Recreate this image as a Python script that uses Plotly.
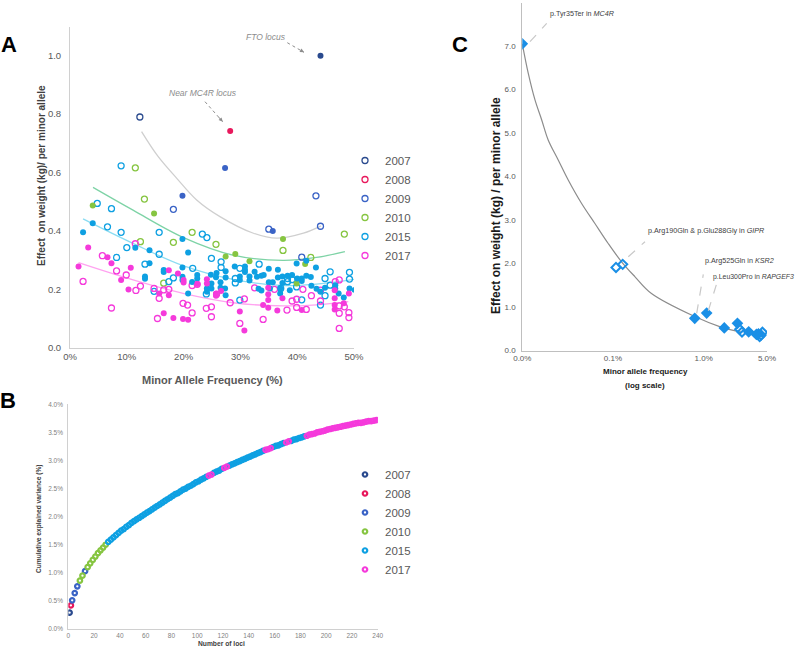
import plotly.graph_objects as go

W, H = 800, 649
def px(x): return x / W
def py(y): return 1 - y / H

years = ["2007", "2008", "2009", "2010", "2015", "2017"]
year_colors = ["#2A4A8E", "#E8185C", "#3A63C6", "#86C541", "#0EA0E2", "#F53ADB"]

# ---------------- Panel A : effect vs MAF ----------------
maf_2007_filled = [44.1]
eff_2007_filled = [1.00]
maf_2007_open = [12.3]
eff_2007_open = [0.79]

maf_2008_filled = [28.2]
eff_2008_filled = [0.742]
maf_2008_open = []
eff_2008_open = []

maf_2009_filled = [27.3, 19.8, 35.7]
eff_2009_filled = [0.615, 0.52, 0.40]
maf_2009_open = [43.3, 18.2, 35.0, 44.1, 40.8]
eff_2009_open = [0.52, 0.474, 0.406, 0.416, 0.31]

maf_2010_filled = [4.0, 14.8, 37.5, 27.4, 29.1, 31.6, 41.4, 39.9]
eff_2010_filled = [0.487, 0.46, 0.372, 0.312, 0.321, 0.296, 0.287, 0.22]
maf_2010_open = [11.5, 13.1, 12.4, 18.2, 21.5, 25.7, 37.5, 48.3, 42.4, 16.5]
eff_2010_open = [0.616, 0.509, 0.363, 0.361, 0.395, 0.354, 0.333, 0.389, 0.309, 0.221]

maf_2015_filled = [2.3, 4.0, 11.5, 14.0, 13.2, 13.2, 14.0, 16.5, 16.5, 19.8, 19.8, 20.8,
                   19.8, 19.8, 20.8, 21.5, 22.4, 22.4, 24.8, 25.8, 24.9, 24.9, 24.1, 24.1,
                   25.7, 26.5, 26.5, 27.3, 27.4, 27.4, 27.4, 29.0, 29.9, 29.9, 30.8, 30.8,
                   30.8, 31.6, 31.6, 32.5, 32.9, 33.7, 33.2, 33.7, 34.1, 35.0, 35.0, 35.7,
                   36.6, 36.6, 37.4, 37.4, 38.3, 39.1, 39.9, 40.0, 40.8, 40.8, 41.6, 41.6,
                   42.4, 42.5, 43.3, 43.4, 44.9, 46.7, 46.7, 48.2, 49.2, 50.1, 37.0, 38.7,
                   44.1, 47.3, 35.2, 37.0]
eff_2015_filled = [0.395, 0.426, 0.342, 0.334, 0.244, 0.236, 0.289, 0.266, 0.259, 0.372, 0.275, 0.326,
                   0.243, 0.232, 0.186, 0.225, 0.249, 0.237, 0.25, 0.256, 0.22, 0.203, 0.203, 0.192,
                   0.241, 0.224, 0.205, 0.203, 0.262, 0.24, 0.18, 0.278, 0.244, 0.232, 0.278, 0.267,
                   0.259, 0.244, 0.23, 0.26, 0.243, 0.246, 0.202, 0.196, 0.249, 0.27, 0.224, 0.224,
                   0.267, 0.24, 0.244, 0.222, 0.246, 0.249, 0.288, 0.237, 0.237, 0.228, 0.298, 0.246,
                   0.242, 0.212, 0.275, 0.202, 0.205, 0.214, 0.203, 0.172, 0.203, 0.198, 0.186, 0.197,
                   0.192, 0.186, 0.203, 0.203]
maf_2015_open = [4.8, 7.3, 9.0, 6.6, 9.0, 15.7, 10.0, 15.7, 13.2, 8.2, 14.8, 17.4, 18.2,
                 23.3, 24.1, 21.6, 24.9, 26.6, 26.6, 29.9, 29.1, 29.1, 33.3, 38.3, 39.1, 38.3,
                 39.9, 44.9, 45.8, 45.8, 44.9, 49.2, 49.2, 44.1, 29.9, 24.0, 37.1, 40.8]
eff_2015_open = [0.494, 0.476, 0.623, 0.414, 0.395, 0.395, 0.343, 0.32, 0.286, 0.309, 0.193, 0.226, 0.239,
                 0.389, 0.377, 0.272, 0.306, 0.294, 0.275, 0.272, 0.237, 0.222, 0.286, 0.237, 0.233, 0.226,
                 0.208, 0.237, 0.26, 0.214, 0.178, 0.258, 0.235, 0.146, 0.163, 0.184, 0.203, 0.164]

maf_2017_filled = [1.5, 3.2, 6.6, 7.3, 9.0, 10.7, 10.3, 15.7, 17.4, 17.4, 19.0, 20.0, 20.0,
                   16.5, 18.2, 19.9, 20.8, 22.4, 24.1, 24.1, 25.7, 25.7, 26.6, 29.9, 30.7,
                   34.0, 34.9, 34.9, 34.9, 34.9, 36.5, 37.4, 40.8, 46.6, 46.6, 46.6, 46.6,
                   48.2, 49.1]
eff_2017_filled = [0.278, 0.343, 0.31, 0.289, 0.232, 0.274, 0.199, 0.186, 0.265, 0.18, 0.254, 0.232, 0.223,
                   0.118, 0.102, 0.098, 0.096, 0.218, 0.234, 0.22, 0.185, 0.178, 0.194, 0.124, 0.059,
                   0.146, 0.205, 0.183, 0.163, 0.137, 0.127, 0.169, 0.129, 0.197, 0.169, 0.146, 0.131,
                   0.152, 0.186]
maf_2017_open = [2.3, 5.7, 8.2, 9.9, 11.6, 12.4, 7.3, 14.8, 15.7, 16.5, 17.4, 11.5, 15.4,
                 19.9, 20.7, 21.5, 21.5, 22.4, 24.0, 24.9, 24.9, 25.8, 28.2, 29.9, 30.7, 32.5,
                 34.0, 38.2, 39.1, 39.9, 39.9, 41.6, 42.5, 44.1, 44.1, 47.4, 47.4, 47.4, 47.4,
                 48.3, 49.1, 49.1, 46.7, 36.0, 41.0]
eff_2017_open = [0.227, 0.315, 0.263, 0.249, 0.196, 0.211, 0.136, 0.203, 0.169, 0.198, 0.2, 0.356, 0.1,
                 0.152, 0.146, 0.119, 0.213, 0.217, 0.135, 0.14, 0.106, 0.183, 0.154, 0.083, 0.167, 0.205,
                 0.097, 0.129, 0.16, 0.166, 0.138, 0.131, 0.178, 0.16, 0.197, 0.232, 0.143, 0.118, 0.066,
                 0.14, 0.12, 0.103, 0.226, 0.2, 0.2]

filled_maf = [maf_2007_filled, maf_2008_filled, maf_2009_filled, maf_2010_filled, maf_2015_filled, maf_2017_filled]
filled_eff = [eff_2007_filled, eff_2008_filled, eff_2009_filled, eff_2010_filled, eff_2015_filled, eff_2017_filled]
open_maf = [maf_2007_open, maf_2008_open, maf_2009_open, maf_2010_open, maf_2015_open, maf_2017_open]
open_eff = [eff_2007_open, eff_2008_open, eff_2009_open, eff_2010_open, eff_2015_open, eff_2017_open]

# trend curves
trend_gray_maf = [12.6, 15.5, 18.8, 22.3, 26.4, 32.3, 36.4, 41.1, 44.2]
trend_gray_eff = [0.74, 0.655, 0.58, 0.506, 0.449, 0.392, 0.375, 0.392, 0.417]
trend_green_maf = [4.05, 11.1, 19.9, 28.7, 37.5, 43.4, 48.4]
trend_green_eff = [0.549, 0.471, 0.378, 0.317, 0.299, 0.309, 0.329]
trend_cyan_maf = [2.3, 11.1, 19.9, 28.7, 37.5, 43.4, 50.1]
trend_cyan_eff = [0.441, 0.357, 0.281, 0.234, 0.213, 0.218, 0.234]
trend_pink_maf = [1.5, 11.1, 19.9, 28.7, 37.5, 43.4, 49.0]
trend_pink_eff = [0.291, 0.232, 0.186, 0.154, 0.143, 0.147, 0.158]

# ---------------- Panel B : cumulative explained variance ----------------
b_loci = [1, 2, 3, 5, 7, 9, 11, 13, 15, 17, 19, 21, 23, 25, 27, 29, 31, 33, 35, 37, 39, 41, 43, 45, 47,
          49, 51, 53, 55, 57, 59, 61, 63, 65, 67, 69, 71, 73, 75, 77, 79, 81, 83, 85, 87, 89, 91, 93,
          95, 97, 99, 101, 103, 105, 107, 109, 111, 113, 115, 117, 119, 121, 123, 125, 127, 129, 131,
          133, 135, 137, 139, 141, 143, 145, 147, 149, 151, 153, 155, 157, 159, 161, 163, 165, 167,
          169, 171, 173, 175, 177, 179, 181, 183, 185, 187, 189, 191, 193, 195, 197, 199, 201, 203,
          205, 207, 209, 211, 213, 215, 217, 219, 221, 223, 225, 227, 229, 231, 233, 235, 237, 239,
          241, 242]
b_cum = [0.29, 0.42, 0.51, 0.64, 0.76, 0.86, 0.95, 1.03, 1.10, 1.17, 1.23, 1.29, 1.35, 1.40, 1.45, 1.50,
         1.55, 1.59, 1.63, 1.67, 1.71, 1.75, 1.78, 1.82, 1.85, 1.89, 1.92, 1.95, 1.98, 2.01, 2.04, 2.07,
         2.10, 2.13, 2.16, 2.19, 2.22, 2.25, 2.28, 2.31, 2.34, 2.37, 2.40, 2.42, 2.45, 2.48, 2.50, 2.53,
         2.55, 2.58, 2.61, 2.63, 2.66, 2.68, 2.71, 2.73, 2.75, 2.78, 2.80, 2.82, 2.85, 2.87, 2.89, 2.91,
         2.93, 2.95, 2.97, 2.99, 3.01, 3.03, 3.05, 3.07, 3.09, 3.11, 3.13, 3.15, 3.17, 3.19, 3.20, 3.22,
         3.24, 3.26, 3.27, 3.29, 3.31, 3.32, 3.34, 3.35, 3.37, 3.38, 3.40, 3.41, 3.43, 3.44, 3.46, 3.47,
         3.48, 3.50, 3.51, 3.52, 3.53, 3.55, 3.56, 3.57, 3.58, 3.59, 3.60, 3.61, 3.62, 3.63, 3.64, 3.65,
         3.66, 3.67, 3.67, 3.68, 3.69, 3.70, 3.70, 3.71, 3.72, 3.72, 3.73]
# (first locus, last locus, year) runs of discovery year along the curve
b_year_runs = [(1, 1, "2007"), (2, 2, "2008"), (3, 8, "2009"), (9, 11, "2010"), (12, 13, "2009"),
               (14, 30, "2010"), (31, 107, "2015"), (108, 112, "2017"), (113, 119, "2015"),
               (120, 124, "2017"), (125, 151, "2015"), (152, 158, "2017"), (159, 167, "2015"),
               (168, 172, "2017"), (173, 183, "2015"), (184, 242, "2017")]

# ---------------- Panel C : rare variants (log MAF) ----------------
c_maf_filled = [0.0001, 0.00798, 0.0108, 0.0169, 0.0236, 0.0314, 0.0382, 0.0402]
c_eff_filled = [7.05, 0.74, 0.86, 0.52, 0.625, 0.43, 0.37, 0.38]
c_maf_open = [0.00108, 0.00128, 0.025, 0.0265, 0.0415, 0.0445, 0.043]
c_eff_open = [1.91, 1.98, 0.49, 0.425, 0.32, 0.42, 0.355]
c_curve_maf = [0.0001, 0.0001164, 0.000138, 0.0001637, 0.000193, 0.000249, 0.000321, 0.000451,
               0.000632, 0.000886, 0.001244, 0.001742, 0.00266, 0.00798, 0.01503, 0.025, 0.0267]
c_curve_eff = [7.05, 6.37, 5.76, 5.30, 4.84, 4.38, 3.92, 3.38, 2.92, 2.46, 2.04, 1.70, 1.31, 0.78,
               0.55, 0.43, 0.42]

fig = go.Figure()

# Panel A traces
for cm, ce, col in [(trend_gray_maf, trend_gray_eff, "#CFCFCF"), (trend_green_maf, trend_green_eff, "#7ED3A6"),
                    (trend_cyan_maf, trend_cyan_eff, "#8ADCF2"), (trend_pink_maf, trend_pink_eff, "#FFA3F0")]:
    fig.add_trace(go.Scatter(x=cm, y=ce, mode="lines", line=dict(color=col, width=1.3, shape="spline"),
                             showlegend=False, hoverinfo="skip", xaxis="x", yaxis="y"))

for i, yr in enumerate(years):
    fig.add_trace(go.Scatter(x=open_maf[i] or [None], y=open_eff[i] or [None], mode="markers", name=yr,
                             legendgroup=yr, legend="legend",
                             marker=dict(symbol="circle-open", size=6, color=year_colors[i], line=dict(width=1.3)),
                             xaxis="x", yaxis="y"))
for i, yr in enumerate(years):
    fig.add_trace(go.Scatter(x=filled_maf[i], y=filled_eff[i], mode="markers", name=yr, legendgroup=yr,
                             showlegend=False,
                             marker=dict(symbol="circle", size=6, color=year_colors[i]),
                             xaxis="x", yaxis="y"))

# Panel B traces
def year_of(n):
    for a, b, y in b_year_runs:
        if a <= n <= b:
            return y
for i, yr in enumerate(years):
    xs = [n for n in b_loci if year_of(n) == yr]
    ys = [v for n, v in zip(b_loci, b_cum) if year_of(n) == yr]
    fig.add_trace(go.Scatter(x=xs, y=ys, mode="markers", name=yr, legend="legend2",
                             marker=dict(symbol="circle-open", size=4.5, color=year_colors[i], line=dict(width=2.2)),
                             xaxis="x2", yaxis="y2"))

# Panel C traces
fig.add_trace(go.Scatter(x=c_curve_maf, y=c_curve_eff, mode="lines", line=dict(color="#8C8C8C", width=1.2, shape="spline"),
                         showlegend=False, xaxis="x3", yaxis="y3"))
fig.add_trace(go.Scatter(x=c_maf_filled, y=c_eff_filled, mode="markers", showlegend=False,
                         marker=dict(symbol="diamond", size=9, color="#1A8FE6"), xaxis="x3", yaxis="y3"))
fig.add_trace(go.Scatter(x=c_maf_open, y=c_eff_open, mode="markers", showlegend=False,
                         marker=dict(symbol="diamond-open", size=7, color="#1A8FE6", line=dict(width=2)),
                         xaxis="x3", yaxis="y3"))

axis_line = "#D0D0D0"
common = dict(showgrid=False, zeroline=False, showline=True, linewidth=1, ticks="", automargin=False)
fig.update_layout(
    width=W, height=H, margin=dict(l=0, r=0, t=0, b=0, autoexpand=False),
    paper_bgcolor="white", plot_bgcolor="white",
    font=dict(family="Arial", color="#595959"),
    xaxis=dict(domain=[px(70), px(354)], range=[0, 50], tickvals=[0, 10, 20, 30, 40, 50],
               ticktext=["0%", "10%", "20%", "30%", "40%", "50%"], linecolor=axis_line,
               tickfont=dict(family="Arial", size=9.5, color="#595959"), anchor="y", **common),
    yaxis=dict(domain=[py(347.7), py(26.5)], range=[0, 1.1], tickvals=[0, 0.2, 0.4, 0.6, 0.8, 1.0],
               ticktext=["0.0", "0.2", "0.4", "0.6", "0.8", "1.0"], linecolor=axis_line,
               ticklabelstandoff=6,
               tickfont=dict(family="Arial", size=9.5, color="#595959"), anchor="x", **common),
    xaxis2=dict(domain=[px(68.3), px(377.7)], range=[0, 240], tickvals=list(range(0, 241, 20)),
                linecolor=axis_line, tickfont=dict(family="Arial", size=6.5, color="#7F7F7F"), anchor="y2", **common),
    yaxis2=dict(domain=[py(629), py(404.3)], range=[0, 4.0], tickvals=[0, 0.5, 1, 1.5, 2, 2.5, 3, 3.5, 4],
                ticktext=["0.0%", "0.5%", "1.0%", "1.5%", "2.0%", "2.5%", "3.0%", "3.5%", "4.0%"],
                linecolor=axis_line, ticklabelstandoff=3,
                tickfont=dict(family="Arial", size=6.5, color="#7F7F7F"), anchor="x2", **common),
    xaxis3=dict(domain=[px(522.3), px(767)], type="log", range=[-4, -1.301],
                tickvals=[0.0001, 0.001, 0.01, 0.05], ticktext=["0.0%", "0.1%", "1.0%", "5.0%"],
                linecolor="#BFBFBF", tickfont=dict(family="Arial", size=8, color="#595959"), anchor="y3", **common),
    yaxis3=dict(domain=[py(350.5), py(2.5)], range=[0, 8], tickvals=list(range(0, 9)),
                ticktext=["%.1f" % v for v in range(0, 9)], linecolor="#BFBFBF", ticklabelstandoff=4,
                tickfont=dict(family="Arial", size=8, color="#595959"), anchor="x3", **common),
    legend=dict(x=px(345), y=py(146), xanchor="left", yanchor="top", bgcolor="rgba(0,0,0,0)",
                font=dict(family="Arial", size=11.5, color="#595959"), tracegroupgap=0, itemwidth=30),
    legend2=dict(x=px(345), y=py(460), xanchor="left", yanchor="top", bgcolor="rgba(0,0,0,0)",
                 font=dict(family="Arial", size=11.5, color="#595959"), tracegroupgap=0, itemwidth=30),
)

ann = []
def label(x, y, text, size, color="#000000", bold=False, italic=False, angle=0, xanchor="center"):
    t = text
    if bold:
        t = "<b>" + t + "</b>"
    if italic:
        t = "<i>" + t + "</i>"
    ann.append(dict(x=px(x), y=py(y), xref="paper", yref="paper", text=t, showarrow=False,
                    font=dict(family="Arial", size=size, color=color), textangle=angle,
                    xanchor=xanchor, yanchor="middle"))

label(9, 45, "A", 22, bold=True)
label(8, 400, "B", 22, bold=True)
label(460, 44.5, "C", 22, bold=True)

label(42, 176, "Effect  on weight (kg)/ per minor allele", 10, color="#404040", bold=True, angle=-90)
label(212, 380, "Minor Allele Frequency (%)", 11, color="#595959", bold=True)
label(266, 37, "FTO locus", 8.5, color="#8C8C8C", italic=True)
label(203, 93, "Near MC4R locus", 8.5, color="#8C8C8C", italic=True)

label(39, 519, "Cumulative explained variance (%)", 6.6, color="#404040", bold=True, angle=-90)
label(221, 643, "Number of loci", 6.7, color="#404040", bold=True)

label(496, 206, "Effect on weight (kg) / per minor allele", 12, color="#1A1A1A", bold=True, angle=-90)
label(645, 372, "Minor allele frequency", 8, color="#1A1A1A", bold=True)
label(645, 385, "(log scale)", 8, color="#1A1A1A", bold=True)
label(548, 14, "p.Tyr35Ter in <i>MC4R</i>", 7.2, color="#404040", xanchor="left")
label(646, 231, "p.Arg190Gln & p.Glu288Gly in <i>GIPR</i>", 7.2, color="#404040", xanchor="left")
label(703, 261, "p.Arg525Gln in <i>KSR2</i>", 7.2, color="#404040", xanchor="left")
label(711, 277, "p.Leu300Pro in <i>RAPGEF3</i>", 6.9, color="#404040", xanchor="left")

# arrowheads for panel A callouts (dotted shaft drawn as shapes below)
for (x0, y0, x1, y1) in [(287.3, 42.7, 304, 52.3), (205, 101.7, 222.7, 121.7)]:
    ann.append(dict(x=px(x1), y=py(y1), ax=(x0 - x1) * 0.3, ay=(y0 - y1) * 0.3,
                    xref="paper", yref="paper", axref="pixel", ayref="pixel", text="", showarrow=True,
                    arrowhead=2, arrowsize=0.8, arrowwidth=1, arrowcolor="#8C8C8C"))
fig.update_layout(annotations=ann)

shapes = []
for (x0, y0, x1, y1) in [(287.3, 42.7, 304, 52.3), (205, 101.7, 222.7, 121.7)]:
    shapes.append(dict(type="line", xref="paper", yref="paper", x0=px(x0), y0=py(y0), x1=px(x1), y1=py(y1),
                       line=dict(color="#8C8C8C", width=1, dash="dot")))
for (x0, y0, x1, y1) in [(530, 41.7, 546.7, 23.3), (628.3, 256.7, 645, 241.7),
                         (696.7, 313.3, 703.3, 274.3), (708.3, 310.7, 717.3, 281.7)]:
    shapes.append(dict(type="line", xref="paper", yref="paper", x0=px(x0), y0=py(y0), x1=px(x1), y1=py(y1),
                       line=dict(color="#C8C8C8", width=1.2, dash="dash")))
fig.update_layout(shapes=shapes)

# remove the browser's default 8px page margin so the figure sits at the window origin
fig.write_html("out.html", config={"displayModeBar": False},
               post_script="document.body.style.margin='0';document.body.style.overflow='hidden';")
